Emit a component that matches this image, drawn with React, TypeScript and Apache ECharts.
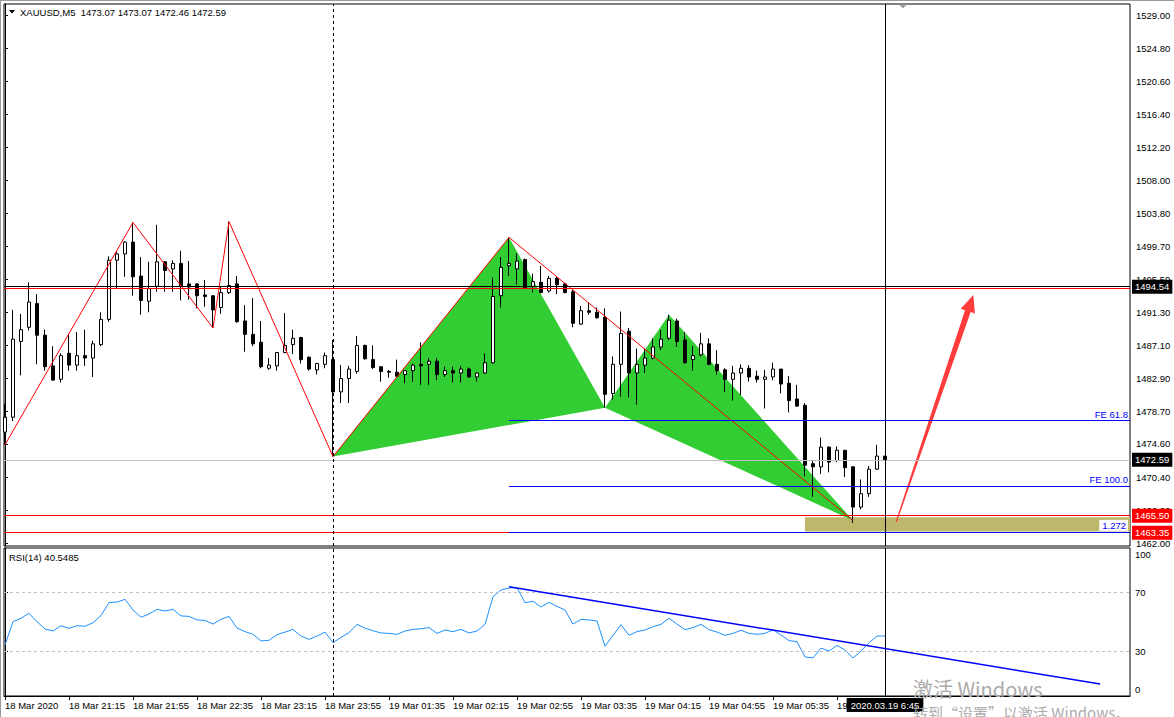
import React, { useEffect, useRef } from "react";
import * as echarts from "echarts";

// ---------- DATA ----------
const barOpen = [
  1476.1, 1478.0, 1487.6, 1489.4, 1492.4, 1488.4, 1484.5, 1482.8, 1486.1, 1484.6,
  1485.8, 1485.5, 1487.2, 1490.4, 1497.9, 1498.7, 1500.2, 1495.9, 1492.7, 1494.6,
  1497.7, 1496.8, 1497.5, 1494.9, 1494.9, 1493.5, 1493.4, 1491.9, 1493.8, 1494.9,
  1490.2, 1488.5, 1487.5, 1484.2, 1484.5, 1486.2, 1487.2, 1488.1, 1485.6, 1484.0,
  1484.7, 1485.3, 1481.2, 1482.9, 1483.8, 1487.1, 1485.3, 1484.4, 1483.8, 1483.7,
  1483.4, 1483.9, 1484.7, 1484.7, 1485.1, 1483.4, 1483.9, 1483.6, 1484.1, 1483.1,
  1483.6, 1484.9, 1493.4, 1497.2, 1496.8, 1498.0, 1494.6, 1495.1, 1494.0, 1495.6,
  1494.9, 1493.9, 1489.8, 1491.5, 1491.3, 1490.7, 1481.0, 1484.7, 1488.9, 1483.6,
  1484.6, 1485.5, 1486.9, 1488.0, 1490.2, 1487.8, 1485.3, 1485.9, 1487.3, 1484.7,
  1484.0, 1482.8, 1483.6, 1484.2, 1483.2, 1482.8, 1483.1, 1484.1, 1482.3, 1480.3,
  1479.5, 1472.1, 1471.7, 1474.2, 1472.5, 1473.8, 1471.7, 1466.6, 1468.3, 1471.4,
  1473.07,
];
const barHigh = [
  1479.7, 1491.6, 1491.1, 1495.1, 1493.6, 1489.1, 1487.0, 1486.1, 1488.6, 1488.8,
  1489.1, 1487.7, 1491.3, 1498.4, 1499.0, 1500.3, 1502.7, 1498.3, 1497.7, 1502.4,
  1497.8, 1497.9, 1499.1, 1497.8, 1495.0, 1495.4, 1493.4, 1494.5, 1502.8, 1495.9,
  1492.2, 1493.1, 1490.2, 1485.5, 1486.2, 1491.2, 1489.1, 1488.2, 1485.7, 1484.9,
  1486.2, 1487.8, 1484.6, 1484.5, 1488.3, 1487.2, 1487.1, 1484.4, 1484.0, 1485.3,
  1483.9, 1484.8, 1487.5, 1485.5, 1485.5, 1484.4, 1484.4, 1484.5, 1484.3, 1483.7,
  1486.1, 1495.7, 1498.3, 1500.8, 1498.8, 1498.1, 1496.2, 1497.2, 1495.9, 1495.9,
  1495.0, 1494.1, 1492.1, 1492.6, 1491.9, 1491.8, 1485.7, 1491.4, 1489.3, 1486.7,
  1486.7, 1488.0, 1489.1, 1491.0, 1490.5, 1488.8, 1487.0, 1488.7, 1488.0, 1486.5,
  1484.2, 1484.5, 1484.7, 1484.6, 1483.9, 1484.0, 1484.9, 1484.1, 1483.2, 1482.1,
  1479.8, 1472.5, 1475.4, 1474.3, 1474.3, 1473.8, 1471.8, 1470.1, 1471.8, 1474.5,
  1473.07,
];
const barLow = [
  1474.5, 1477.5, 1483.3, 1489.0, 1484.7, 1483.9, 1482.6, 1482.4, 1483.9, 1483.9,
  1484.5, 1483.1, 1487.0, 1490.1, 1494.3, 1495.8, 1493.4, 1491.0, 1491.3, 1493.9,
  1493.9, 1493.9, 1492.8, 1492.9, 1491.8, 1492.0, 1489.3, 1491.1, 1493.6, 1490.0,
  1486.3, 1487.0, 1484.2, 1484.0, 1483.9, 1486.1, 1486.0, 1484.8, 1483.9, 1483.4,
  1484.2, 1473.0, 1479.8, 1479.8, 1483.5, 1485.3, 1484.1, 1482.5, 1483.0, 1483.1,
  1482.3, 1482.5, 1482.1, 1482.1, 1482.7, 1483.1, 1482.4, 1482.4, 1483.0, 1482.5,
  1483.5, 1484.8, 1491.9, 1495.9, 1494.8, 1494.3, 1493.8, 1493.7, 1493.8, 1493.6,
  1493.7, 1489.4, 1489.7, 1491.0, 1490.5, 1479.2, 1480.2, 1480.6, 1480.5, 1479.6,
  1483.6, 1485.3, 1486.5, 1487.8, 1486.9, 1484.8, 1483.9, 1485.7, 1484.6, 1483.4,
  1481.2, 1480.1, 1480.8, 1482.5, 1482.4, 1479.1, 1482.7, 1481.0, 1478.6, 1479.3,
  1470.5, 1467.9, 1470.8, 1471.0, 1472.3, 1470.4, 1464.6, 1466.3, 1467.9, 1471.3,
  1472.46,
];
const barClose = [
  1478.0, 1487.9, 1489.1, 1492.6, 1488.4, 1484.4, 1482.7, 1485.8, 1484.6, 1485.8,
  1485.5, 1487.3, 1490.4, 1497.9, 1498.7, 1500.2, 1495.8, 1492.8, 1494.3, 1497.7,
  1496.6, 1497.5, 1494.6, 1494.5, 1493.4, 1493.3, 1491.6, 1493.8, 1494.7, 1490.1,
  1488.5, 1487.3, 1484.4, 1484.6, 1486.2, 1487.1, 1488.0, 1485.3, 1484.1, 1484.8,
  1485.8, 1481.2, 1482.9, 1484.1, 1487.1, 1485.4, 1484.3, 1483.8, 1483.7, 1483.2,
  1483.9, 1484.6, 1484.5, 1485.1, 1483.4, 1483.9, 1483.6, 1484.1, 1483.1, 1483.6,
  1484.9, 1493.3, 1497.0, 1497.5, 1497.8, 1494.4, 1495.2, 1493.8, 1495.6, 1494.8,
  1493.8, 1489.9, 1491.5, 1491.3, 1490.6, 1480.9, 1484.7, 1488.6, 1483.6, 1484.7,
  1485.5, 1486.9, 1487.9, 1490.3, 1487.6, 1484.9, 1485.8, 1487.3, 1484.7, 1483.9,
  1482.8, 1483.6, 1484.2, 1483.1, 1482.8, 1483.1, 1484.1, 1482.2, 1480.1, 1479.4,
  1471.9, 1471.7, 1474.2, 1472.3, 1473.8, 1471.6, 1466.6, 1468.3, 1471.4, 1473.07,
  1472.59,
];
const rsiValues = [
  34.5, 50.2, 52.5, 55.9, 50.2, 45.3, 43.9, 47.5, 45.7, 47.5,
  47.1, 49.5, 54.3, 63.1, 63.5, 65.3, 58.1, 53.2, 55.4, 58.6,
  57.4, 58.6, 54.1, 53.8, 51.4, 51.1, 48.6, 51.8, 53.8, 45.9,
  43.5, 41.7, 37.2, 37.6, 41.4, 43.2, 45.0, 40.5, 38.3, 40.5,
  43.2, 36.0, 39.6, 42.8, 48.4, 45.9, 44.1, 42.6, 42.3, 41.7,
  43.9, 45.0, 45.5, 46.2, 42.3, 44.6, 43.5, 45.0, 42.6, 43.9,
  48.4, 67.1, 71.6, 73.0, 73.2, 63.1, 64.0, 60.1, 63.3, 60.6,
  58.1, 48.6, 51.8, 51.4, 50.7, 33.6, 41.0, 48.2, 41.0, 43.5,
  44.6, 46.8, 48.4, 52.5, 48.6, 44.8, 46.2, 48.4, 44.8, 43.2,
  41.0, 42.3, 44.4, 42.3, 41.7, 42.3, 44.8, 41.2, 37.4, 36.7,
  26.4, 25.7, 32.4, 30.4, 34.2, 31.1, 25.7, 30.4, 36.0, 40.5,
  40.5485,
];

const timeTickIndex = [0, 8, 16, 24, 32, 40, 48, 56, 64, 72, 80, 88, 96, 104];
const timeTickLabels = [
  "18 Mar 2020", "18 Mar 21:15", "18 Mar 21:55", "18 Mar 22:35", "18 Mar 23:15",
  "18 Mar 23:55", "19 Mar 01:35", "19 Mar 02:15", "19 Mar 02:55", "19 Mar 03:35",
  "19 Mar 04:15", "19 Mar 04:55", "19 Mar 05:35", "19 Mar 06:15",
];
const priceTicks = [
  1529.0, 1524.8, 1520.6, 1516.4, 1512.2, 1508.0, 1503.8, 1499.7, 1495.5,
  1491.3, 1487.1, 1482.9, 1478.7, 1474.6, 1470.4, 1466.2, 1462.0,
];
const rsiTicks = [0, 30, 70, 100];
const rsiLevels = [70, 30];

const zigzagIdx = [0, 16, 26, 28, 41];
const zigzagPrice = [1474.5, 1502.7, 1489.3, 1502.8, 1473.0];
// butterfly points X, A, B, C, D
const patternIdx = [41, 63, 75, 83, 106];
const patternPrice = [1473.0, 1500.8, 1479.2, 1491.0, 1464.9];

const fibStart = 63;
const fibLevels = [1477.64, 1469.27, 1463.45];
const fibLabels = ["FE 61.8", "FE 100.0", "1.272"];
const zoneStart = 100;
const zoneTop = 1465.3;
const zoneBottom = 1463.5;
const bidPrice = 1472.59;
const redLevels = [1465.5, 1463.35];
const redLevelNoLabel = 1494.4;
const crossPrice = 1494.54;
const crossIdx = 110;
const crossTime = "2020.03.19 6:45";
const daySepIdx = 41;
const rsiTrendIdx = [63, 136.9];
const rsiTrendVal = [73.85, 8.1];
const arrowFrom = [111.4, 1464.7];
const arrowTo = [121.04, 1493.49];

const X_MIN = -0.125;
const X_MAX = 140.625;
const P_MIN = 1461.66;
const P_MAX = 1530.4;

// ---------- STYLE ----------
const FONT = '"Liberation Sans", Arial, sans-serif';
const FS = 9.5;

function boxLabel(bg: string) {
  return {
    show: true,
    position: "end",
    distance: 2,
    backgroundColor: bg,
    color: "#fff",
    padding: [2, 3, 1, 3],
    fontSize: FS,
    fontFamily: FONT,
    lineHeight: 11,
  };
}

function buildOption() {
  const last = barOpen.length - 1;
  const candleData = barOpen.map((o, i) => [i, o, barClose[i], barLow[i], barHigh[i]]);
  const rsiData = rsiValues.map((v, i) => [i, v]);
  const zigzag = zigzagIdx.map((x, i) => [x, zigzagPrice[i]]);
  const pts = patternIdx.map((x, i) => [x, patternPrice[i]]);
  const triangles = [
    [...pts[0], ...pts[1], ...pts[2]],
    [...pts[2], ...pts[3], ...pts[4]],
  ];

  const fibMarks = fibLevels.map((lvl, k) => [
    {
      coord: [fibStart, lvl],
      lineStyle: { color: "#0000FF", width: 1, type: "solid" },
      label: {
        show: true,
        position: "insideEndTop",
        distance: [2, 1],
        formatter: fibLabels[k],
        color: "#0000FF",
        fontSize: FS,
        fontFamily: FONT,
        backgroundColor: k === 2 ? "#fff" : "transparent",
        padding: k === 2 ? [1, 2, 0, 3] : 0,
      },
    },
    { coord: [X_MAX, lvl] },
  ]);

  return {
    animation: false,
    backgroundColor: "#fff",
    textStyle: { fontFamily: FONT },
    title: [
      {
        text: `XAUUSD,M5  ${barOpen[last].toFixed(2)} ${barHigh[last].toFixed(2)} ${barLow[last].toFixed(2)} ${barClose[last].toFixed(2)}`,
        left: 20,
        top: 7,
        padding: 0,
        textStyle: { fontSize: FS, fontWeight: "normal", color: "#000", fontFamily: FONT },
      },
      {
        text: `RSI(14) ${rsiValues[last].toFixed(4)}`,
        left: 9,
        top: 552,
        padding: 0,
        textStyle: { fontSize: FS, fontWeight: "normal", color: "#000", fontFamily: FONT },
      },
    ],
    grid: [
      { left: 4, right: 44, top: 4, height: 542, show: true, borderColor: "#000", borderWidth: 1, backgroundColor: "#fff" },
      { left: 4, right: 44, top: 548, height: 148, show: true, borderColor: "#000", borderWidth: 1, backgroundColor: "#fff" },
    ],
    xAxis: [
      { type: "value", gridIndex: 0, min: X_MIN, max: X_MAX, show: false },
      {
        type: "value",
        gridIndex: 1,
        min: X_MIN,
        max: X_MAX,
        axisLine: { show: true, lineStyle: { color: "#000" } },
        axisTick: { show: true, customValues: timeTickIndex, length: 4, lineStyle: { color: "#000" } },
        axisLabel: {
          customValues: timeTickIndex,
          formatter: (v: number) => timeTickLabels[timeTickIndex.indexOf(Math.round(v))] ?? "",
          align: "left",
          margin: 4,
          color: "#000",
          fontSize: FS,
          fontFamily: FONT,
          hideOverlap: false,
        },
        splitLine: { show: false },
      },
    ],
    yAxis: [
      {
        type: "value",
        gridIndex: 0,
        position: "right",
        min: P_MIN,
        max: P_MAX,
        axisLine: { show: true, lineStyle: { color: "#000" } },
        axisTick: { show: true, customValues: priceTicks, length: 3, lineStyle: { color: "#000" } },
        axisLabel: {
          customValues: priceTicks,
          formatter: (v: number) => v.toFixed(2),
          margin: 6,
          color: "#000",
          fontSize: FS,
          fontFamily: FONT,
          hideOverlap: false,
        },
        splitLine: { show: false },
      },
      {
        type: "value",
        gridIndex: 1,
        position: "right",
        min: 0,
        max: 100,
        axisLine: { show: true, lineStyle: { color: "#000" } },
        axisTick: { show: true, customValues: rsiLevels, length: 3, lineStyle: { color: "#000" } },
        axisLabel: {
          customValues: rsiTicks,
          formatter: (v: number) => (v === 100 ? "{t|100}" : v === 0 ? "{b|0}" : String(v)),
          rich: {
            t: { padding: [13, 0, 0, 0], fontSize: FS, fontFamily: FONT, color: "#000" },
            b: { padding: [0, 0, 13, 0], fontSize: FS, fontFamily: FONT, color: "#000" },
          },
          margin: 5,
          color: "#000",
          fontSize: FS,
          fontFamily: FONT,
          hideOverlap: false,
        },
        splitLine: { show: false },
      },
    ],
    series: [
      {
        type: "custom",
        name: "butterfly",
        xAxisIndex: 0,
        yAxisIndex: 0,
        z: 1,
        silent: true,
        data: triangles,
        encode: { x: [0, 2, 4], y: [1, 3, 5] },
        renderItem: (_params: any, api: any) => {
          const p = [0, 1, 2].map((k) => api.coord([api.value(2 * k), api.value(2 * k + 1)]));
          return { type: "polygon", shape: { points: p }, style: { fill: "#32CD32" } };
        },
      },
      {
        type: "candlestick",
        name: "XAUUSD",
        xAxisIndex: 0,
        yAxisIndex: 0,
        z: 2,
        data: candleData,
        encode: { x: 0, y: [1, 2, 3, 4] },
        barWidth: 4,
        itemStyle: { color: "#fff", color0: "#000", borderColor: "#000", borderColor0: "#000", borderWidth: 1 },
        markArea: {
          silent: true,
          itemStyle: { color: "#BDB76B" },
          data: [[{ coord: [zoneStart, zoneTop] }, { coord: [X_MAX, zoneBottom] }]],
        },
        markLine: {
          silent: true,
          symbol: ["none", "none"],
          label: { show: false },
          data: [
            { yAxis: bidPrice, lineStyle: { color: "#C0C0C0", width: 1, type: "solid" }, label: { ...boxLabel("#000"), formatter: bidPrice.toFixed(2) } },
            { yAxis: redLevels[0], lineStyle: { color: "#FF0000", width: 1, type: "solid" }, label: { ...boxLabel("#FF0000"), formatter: redLevels[0].toFixed(2) } },
            { yAxis: redLevels[1], lineStyle: { color: "#FF0000", width: 1, type: "solid" }, label: { ...boxLabel("#FF0000"), formatter: redLevels[1].toFixed(2) } },
            { yAxis: redLevelNoLabel, lineStyle: { color: "#FF0000", width: 1, type: "solid" }, label: { show: false } },
            { yAxis: crossPrice, lineStyle: { color: "#000", width: 1, type: "solid" }, label: { ...boxLabel("#000"), formatter: crossPrice.toFixed(2) } },
            { xAxis: daySepIdx, lineStyle: { color: "#000", width: 1, type: [3, 3] }, label: { show: false } },
            { xAxis: crossIdx, lineStyle: { color: "#000", width: 1, type: "solid" }, label: { show: false } },
            ...fibMarks,
          ],
        },
      },
      {
        type: "line",
        name: "zigzag",
        xAxisIndex: 0,
        yAxisIndex: 0,
        z: 3,
        silent: true,
        symbol: "none",
        data: zigzag,
        lineStyle: { color: "#FF0000", width: 1 },
      },
      {
        type: "line",
        name: "XA",
        xAxisIndex: 0,
        yAxisIndex: 0,
        z: 3,
        silent: true,
        symbol: "none",
        data: [pts[0], pts[1]],
        lineStyle: { color: "#FF0000", width: 1 },
      },
      {
        type: "line",
        name: "AD",
        xAxisIndex: 0,
        yAxisIndex: 0,
        z: 3,
        silent: true,
        symbol: "none",
        data: [pts[1], pts[4]],
        lineStyle: { color: "#FF0000", width: 1 },
      },
      {
        type: "custom",
        name: "arrow",
        xAxisIndex: 0,
        yAxisIndex: 0,
        z: 4,
        silent: true,
        data: [[arrowFrom[0], arrowFrom[1], arrowTo[0], arrowTo[1]]],
        encode: { x: [0, 2], y: [1, 3] },
        renderItem: (_params: any, api: any) => {
          const t = api.coord([api.value(0), api.value(1)]);
          const h = api.coord([api.value(2), api.value(3)]);
          const dx = h[0] - t[0];
          const dy = h[1] - t[1];
          const L = Math.hypot(dx, dy);
          const ux = dx / L;
          const uy = dy / L;
          const nx = -uy;
          const ny = ux;
          const headLen = 17;
          const headW = 7.5;
          const neckW = 3;
          const tailW = 0.6;
          const bx = h[0] - ux * headLen;
          const by = h[1] - uy * headLen;
          const poly = [
            [t[0] + nx * tailW, t[1] + ny * tailW],
            [bx + nx * neckW, by + ny * neckW],
            [bx + nx * headW, by + ny * headW],
            [h[0], h[1]],
            [bx - nx * headW, by - ny * headW],
            [bx - nx * neckW, by - ny * neckW],
            [t[0] - nx * tailW, t[1] - ny * tailW],
          ];
          return { type: "polygon", shape: { points: poly }, style: { fill: "#FF3B3B" } };
        },
      },
      {
        type: "line",
        name: "RSI(14)",
        xAxisIndex: 1,
        yAxisIndex: 1,
        z: 3,
        silent: true,
        symbol: "none",
        data: rsiData,
        lineStyle: { color: "#1E90FF", width: 1 },
        markLine: {
          silent: true,
          symbol: ["none", "none"],
          label: { show: false },
          data: [
            ...rsiLevels.map((lv) => ({ yAxis: lv, lineStyle: { color: "#C0C0C0", width: 1, type: [3, 3] }, label: { show: false } })),
            { xAxis: daySepIdx, lineStyle: { color: "#000", width: 1, type: [3, 3] }, label: { show: false } },
            {
              xAxis: crossIdx,
              lineStyle: { color: "#000", width: 1, type: "solid" },
              label: {
                show: true,
                position: "start",
                distance: 2,
                formatter: crossTime,
                backgroundColor: "#000",
                color: "#fff",
                padding: [2, 4, 1, 4],
                fontSize: FS,
                fontFamily: FONT,
                lineHeight: 11,
              },
            },
            [
              { coord: [rsiTrendIdx[0], rsiTrendVal[0]], lineStyle: { color: "#0000FF", width: 1.5, type: "solid" } },
              { coord: [rsiTrendIdx[1], rsiTrendVal[1]] },
            ],
          ],
        },
      },
    ],
    graphic: [
      { type: "line", shape: { x1: 0.5, y1: 0, x2: 0.5, y2: 717 }, style: { stroke: "#9A9A9A", lineWidth: 1 }, z: 50 },
      { type: "line", shape: { x1: 0, y1: 0.5, x2: 1174, y2: 0.5 }, style: { stroke: "#9A9A9A", lineWidth: 1 }, z: 50 },
      { type: "polygon", shape: { points: [[9, 10], [15, 10], [12, 13.5]] }, style: { fill: "#000" }, z: 50 },
      { type: "polygon", shape: { points: [[899, 4.5], [907, 4.5], [903, 8.5]] }, style: { fill: "#A0A0A0" }, z: 50 },
      {
        type: "text",
        x: 913,
        y: 688,
        z: 100,
        silent: true,
        style: { text: "激活 Windows", fill: "#ABABAB", fontSize: 20, fontFamily: '"Noto Sans CJK SC", sans-serif', verticalAlign: "middle" },
      },
      {
        type: "text",
        x: 913,
        y: 712,
        z: 100,
        silent: true,
        style: { text: "转到“设置”以激活 Windows。", fill: "#ABABAB", fontSize: 15, fontFamily: '"Noto Sans CJK SC", sans-serif', verticalAlign: "middle" },
      },
    ],
  };
}

export default function App() {
  const ref = useRef<HTMLDivElement>(null);
  useEffect(() => {
    if (!ref.current) return;
    const chart = echarts.init(ref.current, null, { renderer: "svg" });
    chart.setOption(buildOption() as any);
    return () => chart.dispose();
  }, []);
  return <div ref={ref} style={{ position: "absolute", left: 0, top: 0, width: 1174, height: 717 }} />;
}
